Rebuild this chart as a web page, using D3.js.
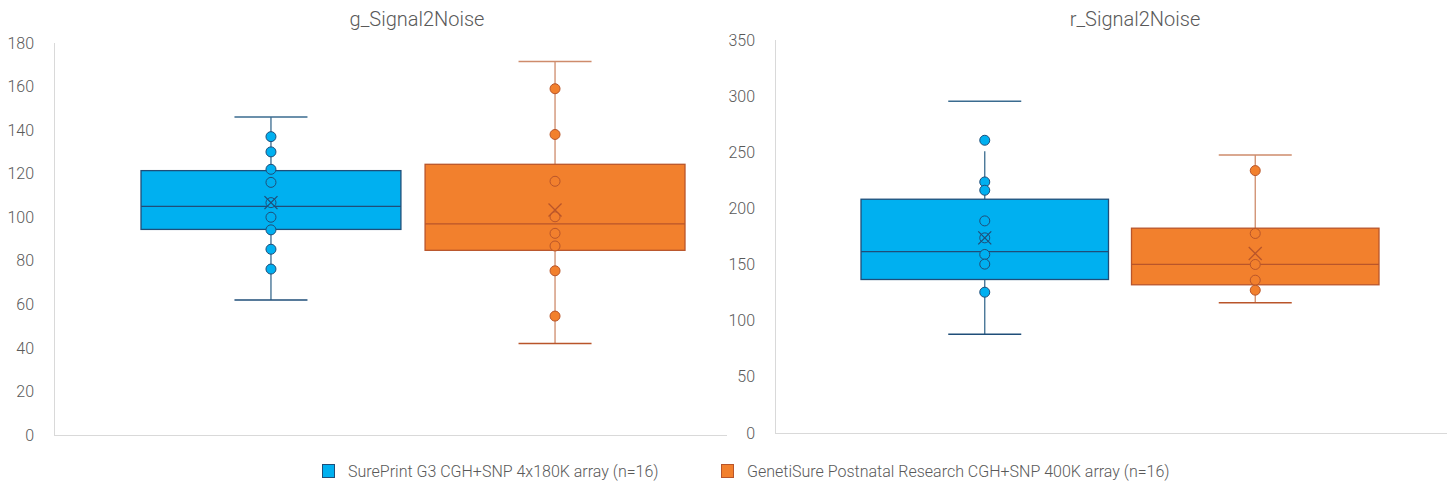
<!DOCTYPE html>
<html>
<head>
<meta charset="utf-8">
<script src="https://cdn.jsdelivr.net/npm/d3@7"></script>
<style>
  html, body { margin: 0; padding: 0; background: #fff; }
  svg { display: block; font-family: Roboto, "Noto Sans", sans-serif; font-weight: 300; }
</style>
</head>
<body>
<svg id="chart" width="1453" height="485"></svg>
<script>
// ---------- DATA ----------
const seriesNames = ["SurePrint G3 CGH+SNP 4x180K array (n=16)", "GenetiSure Postnatal Research CGH+SNP 400K array (n=16)"];
const chartTitles = ["g_Signal2Noise", "r_Signal2Noise"];

// g_Signal2Noise
const gTicks = [0, 20, 40, 60, 80, 100, 120, 140, 160, 180];
const gMin = [62, 42];
const gQ1 = [94.4, 84.8];
const gMedian = [105, 96.9];
const gQ3 = [121.4, 124.3];
const gMax = [146, 171.5];
const gWhiskerLineTop = [146, 171.5];
const gMean = [106.7, 103.3];
const gPointsSurePrint = [137, 130, 122, 116, 106.7, 100, 94.2, 85.3, 76.2];
const gPointsGenetiSure = [159, 138, 116.5, 100.2, 92.6, 86.8, 75.4, 54.6];

// r_Signal2Noise
const rTicks = [0, 50, 100, 150, 200, 250, 300, 350];
const rMin = [88, 116];
const rQ1 = [136.7, 132];
const rMedian = [161.6, 150.1];
const rQ3 = [208.2, 182.4];
const rMax = [295.5, 247.6];
const rWhiskerLineTop = [251, 247.6];
const rMean = [173.8, 159.9];
const rPointsSurePrint = [260.7, 223.6, 216.2, 188.9, 173.8, 159, 150.4, 125.4];
const rPointsGenetiSure = [233.7, 177.7, 150.1, 136.1, 127.2];

// ---------- STYLE ----------
const fills = ["#00B0F0", "#F2802D"];
const strokes = ["#1F4E79", "#B9552A"];
const whiskerStrokes = ["#3A6B8F", "#CE8B6B"];
const textColor = "#595959";
const axisColor = "#D9D9D9";

const svg = d3.select("#chart");

const charts = [
  { title: chartTitles[0], titleX: 417, ticks: gTicks, domainMax: 180,
    x0: 54, x1: 727, yBottom: 435, yTop: 43, bandRange: [141, 685],
    min: gMin, q1: gQ1, med: gMedian, q3: gQ3, max: gMax, lineTop: gWhiskerLineTop, mean: gMean,
    points: [gPointsSurePrint, gPointsGenetiSure] },
  { title: chartTitles[1], titleX: 1135, ticks: rTicks, domainMax: 350,
    x0: 775, x1: 1447, yBottom: 433, yTop: 40, bandRange: [861, 1379],
    min: rMin, q1: rQ1, med: rMedian, q3: rQ3, max: rMax, lineTop: rWhiskerLineTop, mean: rMean,
    points: [rPointsSurePrint, rPointsGenetiSure] }
];

charts.forEach(c => {
  const g = svg.append("g");
  const y = d3.scaleLinear().domain([0, c.domainMax]).range([c.yBottom, c.yTop]);
  const x = d3.scaleBand().domain(seriesNames).range(c.bandRange).paddingInner(0.085).paddingOuter(0);

  // title
  g.append("text").attr("x", c.titleX).attr("y", 26).attr("text-anchor", "middle")
    .attr("font-size", 20).attr("fill", textColor).text(c.title);

  // y axis labels
  const ax = g.append("g").attr("transform", `translate(${c.x0},0)`)
    .call(d3.axisLeft(y).tickValues(c.ticks).tickSize(0).tickPadding(20));
  ax.select(".domain").remove();
  ax.selectAll("text").attr("font-size", 16).attr("fill", textColor)
    .attr("font-family", "Roboto, sans-serif").attr("font-weight", 300);

  // axis lines
  g.append("line").attr("x1", c.x0 + 0.5).attr("x2", c.x0 + 0.5).attr("y1", c.yTop).attr("y2", c.yBottom)
    .attr("stroke", axisColor).attr("stroke-width", 1);
  g.append("line").attr("x1", c.x0).attr("x2", c.x1).attr("y1", c.yBottom + 0.5).attr("y2", c.yBottom + 0.5)
    .attr("stroke", axisColor).attr("stroke-width", 1);

  seriesNames.forEach((s, i) => {
    const bx = x(s), bw = x.bandwidth(), cx = bx + bw / 2;
    const capW = 73;
    const sg = g.append("g");
    // whiskers
    sg.append("line").attr("x1", cx).attr("x2", cx).attr("y1", y(c.q3[i])).attr("y2", y(c.lineTop[i]))
      .attr("stroke", whiskerStrokes[i]).attr("stroke-width", 1.3);
    sg.append("line").attr("x1", cx).attr("x2", cx).attr("y1", y(c.q1[i])).attr("y2", y(c.min[i]))
      .attr("stroke", whiskerStrokes[i]).attr("stroke-width", 1.3);
    sg.append("line").attr("x1", cx - capW / 2).attr("x2", cx + capW / 2).attr("y1", y(c.max[i])).attr("y2", y(c.max[i]))
      .attr("stroke", whiskerStrokes[i]).attr("stroke-width", 1.5);
    sg.append("line").attr("x1", cx - capW / 2).attr("x2", cx + capW / 2).attr("y1", y(c.min[i])).attr("y2", y(c.min[i]))
      .attr("stroke", strokes[i]).attr("stroke-width", 1.5);
    // box
    sg.append("rect").attr("x", bx).attr("y", y(c.q3[i])).attr("width", bw).attr("height", y(c.q1[i]) - y(c.q3[i]))
      .attr("fill", fills[i]).attr("stroke", strokes[i]).attr("stroke-width", 1.3);
    // median
    sg.append("line").attr("x1", bx).attr("x2", bx + bw).attr("y1", y(c.med[i])).attr("y2", y(c.med[i]))
      .attr("stroke", strokes[i]).attr("stroke-width", 1.3);
    // points
    sg.selectAll("circle").data(c.points[i]).join("circle")
      .attr("cx", cx).attr("cy", d => y(d)).attr("r", 5)
      .attr("fill", fills[i]).attr("stroke", strokes[i]).attr("stroke-width", 1);
    // mean X
    const my = y(c.mean[i]), m = 6.5;
    sg.append("path").attr("d", `M${cx - m},${my - m}L${cx + m},${my + m}M${cx - m},${my + m}L${cx + m},${my - m}`)
      .attr("stroke", strokes[i]).attr("stroke-width", 1.3).attr("fill", "none");
  });
});

// legend
const legendX = [322, 721];
const legend = svg.append("g");
seriesNames.forEach((s, i) => {
  legend.append("rect").attr("x", legendX[i] + 0.5).attr("y", 464.5).attr("width", 12).attr("height", 13)
    .attr("fill", fills[i]).attr("stroke", strokes[i]).attr("stroke-width", 1);
  legend.append("text").attr("x", legendX[i] + 26).attr("y", 477).attr("font-size", 16)
    .attr("fill", textColor).text(s);
});
</script>
</body>
</html>
